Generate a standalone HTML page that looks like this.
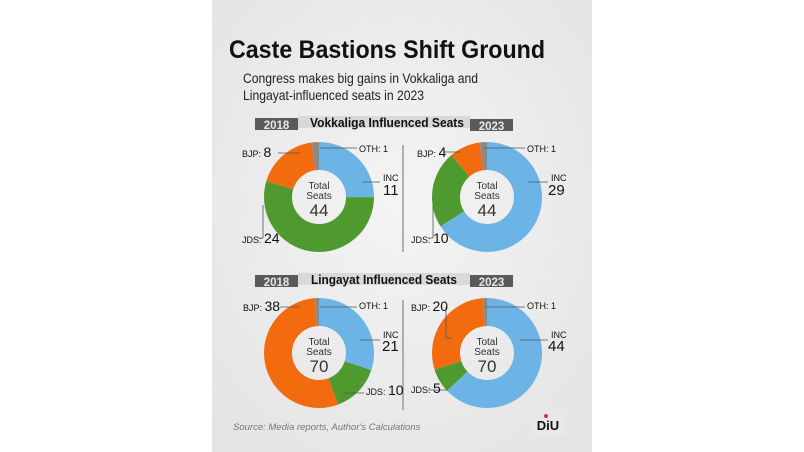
<!DOCTYPE html>
<html><head><meta charset="utf-8"><style>
html,body{margin:0;padding:0;background:#fff;}
svg{display:block;font-family:"Liberation Sans",sans-serif;}
</style></head><body>
<svg width="804" height="452" viewBox="0 0 804 452" xmlns="http://www.w3.org/2000/svg">
<defs><radialGradient id="bg" cx="0.5" cy="0.45" r="0.7"><stop offset="0" stop-color="#f4f4f4"/><stop offset="1" stop-color="#e4e4e4"/></radialGradient></defs>
<rect x="0" y="0" width="804" height="452" fill="#fff"/>
<rect x="212" y="0" width="380" height="452" fill="url(#bg)"/>
<text x="229" y="58" font-size="25" font-weight="bold" fill="#111" textLength="316" lengthAdjust="spacingAndGlyphs">Caste Bastions Shift Ground</text>
<text x="243" y="83" font-size="13.5" fill="#222" textLength="235" lengthAdjust="spacingAndGlyphs">Congress makes big gains in Vokkaliga and</text>
<text x="243" y="100" font-size="13.5" fill="#222" textLength="181" lengthAdjust="spacingAndGlyphs">Lingayat-influenced seats in 2023</text>

<rect x="298" y="116" width="172" height="12" fill="#d9d9d9"/>
<rect x="255" y="118" width="43" height="12" fill="#5a5a5a"/>
<rect x="470" y="119" width="43" height="12" fill="#5a5a5a"/>
<text x="276.5" y="129" font-size="11.5" font-weight="bold" fill="#e8e8e8" text-anchor="middle">2018</text>
<text x="491.5" y="130" font-size="11.5" font-weight="bold" fill="#e8e8e8" text-anchor="middle">2023</text>
<text x="387" y="127" font-size="12.5" font-weight="bold" fill="#111" text-anchor="middle" textLength="154" lengthAdjust="spacingAndGlyphs">Vokkaliga Influenced Seats</text>
<rect x="298" y="273" width="172" height="12" fill="#d9d9d9"/>
<rect x="255" y="275" width="43" height="12" fill="#5a5a5a"/>
<rect x="470" y="275" width="43" height="12" fill="#5a5a5a"/>
<text x="276.5" y="286" font-size="11.5" font-weight="bold" fill="#e8e8e8" text-anchor="middle">2018</text>
<text x="491.5" y="286" font-size="11.5" font-weight="bold" fill="#e8e8e8" text-anchor="middle">2023</text>
<text x="384" y="284" font-size="12.5" font-weight="bold" fill="#111" text-anchor="middle" textLength="146" lengthAdjust="spacingAndGlyphs">Lingayat Influenced Seats</text>

<line x1="403" y1="145" x2="403" y2="252" stroke="#999" stroke-width="1.5"/>
<line x1="403" y1="300" x2="403" y2="410" stroke="#999" stroke-width="1.5"/>

<g fill="none" stroke-width="28">
<g transform="translate(319,197) rotate(-90)">
<circle r="41" stroke="#6cb4e6" stroke-dasharray="64.4 300" stroke-dashoffset="0"/>
<circle r="41" stroke="#4e9a2f" stroke-dasharray="140.5 300" stroke-dashoffset="-64.4"/>
<circle r="41" stroke="#f26b0f" stroke-dasharray="46.8 300" stroke-dashoffset="-204.9"/>
<circle r="41" stroke="#8a8a8a" stroke-dasharray="5.9 300" stroke-dashoffset="-251.7"/>
</g>
<g transform="translate(487,197) rotate(-90)">
<circle r="41" stroke="#6cb4e6" stroke-dasharray="169.8 300" stroke-dashoffset="0"/>
<circle r="41" stroke="#4e9a2f" stroke-dasharray="58.5 300" stroke-dashoffset="-169.8"/>
<circle r="41" stroke="#f26b0f" stroke-dasharray="23.4 300" stroke-dashoffset="-228.3"/>
<circle r="41" stroke="#8a8a8a" stroke-dasharray="5.9 300" stroke-dashoffset="-251.7"/>
</g>
<g transform="translate(319,353) rotate(-90)">
<circle r="41" stroke="#6cb4e6" stroke-dasharray="77.3 300" stroke-dashoffset="0"/>
<circle r="41" stroke="#4e9a2f" stroke-dasharray="36.8 300" stroke-dashoffset="-77.3"/>
<circle r="41" stroke="#f26b0f" stroke-dasharray="139.8 300" stroke-dashoffset="-114.1"/>
<circle r="41" stroke="#8a8a8a" stroke-dasharray="3.7 300" stroke-dashoffset="-253.9"/>
</g>
<g transform="translate(487,353) rotate(-90)">
<circle r="41" stroke="#6cb4e6" stroke-dasharray="161.9 300" stroke-dashoffset="0"/>
<circle r="41" stroke="#4e9a2f" stroke-dasharray="18.4 300" stroke-dashoffset="-161.9"/>
<circle r="41" stroke="#f26b0f" stroke-dasharray="73.6 300" stroke-dashoffset="-180.3"/>
<circle r="41" stroke="#8a8a8a" stroke-dasharray="3.7 300" stroke-dashoffset="-253.9"/>
</g>
</g>

<g fill="#333" text-anchor="middle" font-size="10">
<text x="319" y="189">Total</text><text x="319" y="199">Seats</text><text x="319" y="216" font-size="17">44</text>
<text x="487" y="189">Total</text><text x="487" y="199">Seats</text><text x="487" y="216" font-size="17">44</text>
<text x="319" y="345">Total</text><text x="319" y="355">Seats</text><text x="319" y="372" font-size="17">70</text>
<text x="487" y="345">Total</text><text x="487" y="355">Seats</text><text x="487" y="372" font-size="17">70</text>
</g>

<g stroke="#555" stroke-width="0.8" fill="none">
<path d="M278 153H300"/><path d="M357 148H320"/><path d="M380 182H362"/><path d="M263 205V238H258"/>
<path d="M444 152H460"/><path d="M525 148H484"/><path d="M548 182H528"/><path d="M433 205V238H428"/>
<path d="M280 307H300"/><path d="M357 307H320"/><path d="M380 340H360"/><path d="M364 393H343"/>
<path d="M446 307V338H452"/><path d="M525 307H485"/><path d="M548 340H520"/><path d="M428 390H448"/>
</g>

<g fill="#111">
<text x="242" y="157" font-size="9">BJP: <tspan font-size="14">8</tspan></text>
<text x="359" y="152" font-size="9">OTH: 1</text>
<text x="383" y="181" font-size="9">INC</text><text x="383" y="195" font-size="15">11</text>
<text x="242" y="243" font-size="9">JDS: <tspan font-size="14">24</tspan></text>

<text x="417" y="157" font-size="9">BJP: <tspan font-size="14">4</tspan></text>
<text x="527" y="152" font-size="9">OTH: 1</text>
<text x="551" y="181" font-size="9">INC</text><text x="548" y="195" font-size="15">29</text>
<text x="411" y="243" font-size="9">JDS: <tspan font-size="14">10</tspan></text>

<text x="243" y="311" font-size="9">BJP: <tspan font-size="14">38</tspan></text>
<text x="359" y="309" font-size="9">OTH: 1</text>
<text x="383" y="338" font-size="9">INC</text><text x="382" y="351" font-size="15">21</text>
<text x="366" y="395" font-size="9">JDS: <tspan font-size="14">10</tspan></text>

<text x="411" y="311" font-size="9">BJP: <tspan font-size="14">20</tspan></text>
<text x="527" y="309" font-size="9">OTH: 1</text>
<text x="551" y="338" font-size="9">INC</text><text x="548" y="351" font-size="15">44</text>
<text x="411" y="393" font-size="9">JDS: <tspan font-size="14">5</tspan></text>
</g>

<text x="233" y="430" font-size="9.5" font-style="italic" fill="#777">Source: Media reports, Author's Calculations</text>
<rect x="531" y="410" width="35" height="26" fill="#e8e8e8"/>
<text x="548" y="430" font-size="13" font-weight="bold" fill="#111" text-anchor="middle">DiU</text>
<circle cx="546" cy="416" r="2" fill="#d33"/>
</svg>
</body></html>
